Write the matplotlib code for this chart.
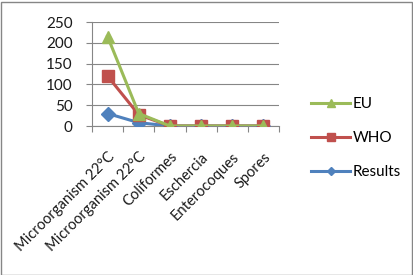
import matplotlib
matplotlib.use("Agg")
import matplotlib.pyplot as plt
from matplotlib.patches import Rectangle

categories = ["Microorganism 22°C", "Microorganism 22°C", "Coliformes", "Eschercia", "Enterocoques", "Spores"]
eu = [215, 30, 0, 0, 0, 0]
who = [120, 27, 0, 0, 0, 0]
results = [30, 8, 0, 0, 0, 0]
yticks = [0, 50, 100, 150, 200, 250]

plt.rcParams['font.family'] = ['Lato', 'DejaVu Sans']

W, H = 413, 275
fig = plt.figure(figsize=(W/100, H/100), dpi=100)
ax = fig.add_axes([92/W, 1-126/H, (279-92)/W, (126-22)/H])

x = list(range(len(categories)))
ax.plot(x, results, color="#4F81BD", marker="D", markersize=7, lw=2.2, label="Results", zorder=3)
ax.plot(x, who, color="#C0504D", marker="s", markersize=9, lw=2.2, label="WHO", zorder=4)
ax.plot(x, eu, color="#9BBB59", marker="^", markersize=9, lw=2.2, label="EU", zorder=5)

ax.set_xlim(-0.5, len(categories) - 0.5)
ax.set_ylim(0, 250)
ax.set_yticks(yticks)
ax.set_yticklabels([str(v) for v in yticks], fontsize=11, color="#1a1a1a")
ax.yaxis.grid(True, color="#868686", lw=0.8)
ax.set_axisbelow(True)
ax.set_xticks([i - 0.5 for i in range(len(categories) + 1)], minor=False)
ax.set_xticklabels([])
ax.set_xticks(x, minor=True)
ax.set_xticklabels(categories, minor=True, rotation=45, ha="right", va="top",
                   rotation_mode="anchor", fontsize=10.5, color="#1a1a1a")
ax.tick_params(axis="x", which="minor", length=0, pad=17)
ax.tick_params(axis="x", which="major", length=4, direction="out", color="#868686")
ax.tick_params(axis="y", length=4, direction="out", color="#868686", pad=10)
for s in ["top", "right"]:
    ax.spines[s].set_visible(False)
ax.spines["bottom"].set_color("#868686")
ax.spines["left"].set_color("#868686")

handles, labels = ax.get_legend_handles_labels()
order = [2, 1, 0]
leg = fig.legend([handles[i] for i in order], [labels[i] for i in order],
           loc="center left", bbox_to_anchor=(297/W, 1-138/H), frameon=False,
           fontsize=11, labelspacing=1.3, handlelength=2.6, handletextpad=0.15,
           markerscale=0.65)

fig.patches.append(Rectangle((0.5/W, 0.5/H), 1-2/W, 1-2/H, transform=fig.transFigure,
                             fill=False, edgecolor="#868686", lw=1))
fig.savefig("out.png", dpi=100)
